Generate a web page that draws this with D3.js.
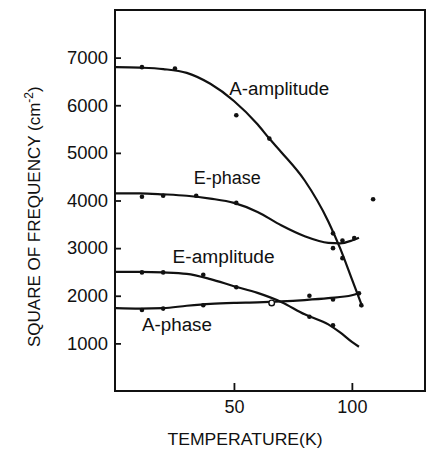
<!DOCTYPE html>
<html>
<head>
<meta charset="utf-8">
<script src="https://cdn.jsdelivr.net/npm/d3@7"></script>
<style>
  body { margin: 0; background: #fff; }
  text { font-family: "Liberation Sans", Arial, sans-serif; fill: #111; }
</style>
</head>
<body>
<div id="chart"></div>
<script>
// smooth curves, [temperature K, square of frequency cm^-2]
const aAmplitudeCurve = [[0,6800],[10,6790],[20,6760],[30,6680],[40,6450],[50,6090],[60,5600],[65,5300],[70,5020],[80,4420],[90,3560],[95,3000],[100,2350],[104.5,1760]];
const ePhaseCurve = [[0,4150],[10,4150],[20,4130],[30,4100],[40,4040],[50,3950],[60,3760],[70,3480],[80,3250],[90,3110],[95,3100],[100,3160],[103,3220]];
const eAmplitudeCurve = [[0,2500],[10,2500],[20,2490],[30,2460],[40,2350],[50,2200],[60,2060],[70,1870],[80,1610],[90,1400],[95,1230],[100,1030],[103,930]];
const aPhaseCurve = [[0,1740],[10,1730],[20,1740],[30,1790],[40,1830],[50,1850],[60,1860],[70,1880],[80,1910],[90,1950],[100,2010],[103,2060]];

// measured points
const aAmplitudePts = [[11,6800],[25,6770],[51,5790],[65,5300],[92,3310],[96,2790],[104,1800],[109,4025]];
const ePhasePts = [[11,4080],[20,4100],[34,4100],[51,3950],[92,3000],[96,3160],[101,3210]];
const eAmplitudePts = [[11,2490],[20,2490],[37,2440],[51,2180],[82,1560],[92,1380]];
const aPhasePts = [[11,1700],[20,1730],[37,1800],[82,2000],[92,1920],[103,2050]];
const aPhaseOpen = [[66,1850]];

const curveLabels = [
  {text: "A-amplitude", t: 48, f: 6220, len: 100},
  {text: "E-phase", t: 33, f: 4340, len: 67},
  {text: "E-amplitude", t: 24, f: 2680, len: 102},
  {text: "A-phase", t: 11, f: 1270, len: 70}
];

const yTicks = [1000, 2000, 3000, 4000, 5000, 6000, 7000];
const xTicks = [50, 100];

const width = 436, height = 454;
const svg = d3.select("#chart").append("svg")
  .attr("width", width)
  .attr("height", height);

const x = d3.scaleLinear().domain([0, 131]).range([116, 425]);
const y = d3.scaleLinear().domain([0, 8000]).range([391, 10]);

// frame
svg.append("rect")
  .attr("x", x(0) - 1).attr("y", y(8000))
  .attr("width", x(131) - x(0) + 1).attr("height", y(0) - y(8000))
  .attr("fill", "none").attr("stroke", "#111").attr("stroke-width", 2);

// axes with inward ticks
const yAxis = svg.append("g")
  .attr("transform", `translate(${x(0) - 1},0)`)
  .call(d3.axisLeft(y).tickValues(yTicks).tickFormat(d3.format("d")).tickSize(-6).tickPadding(7));
const xAxis = svg.append("g")
  .attr("transform", `translate(0,${y(0)})`)
  .call(d3.axisBottom(x).tickValues(xTicks).tickFormat(d3.format("d")).tickSize(-8).tickPadding(9));

[yAxis, xAxis].forEach(g => {
  g.select(".domain").remove();
  g.selectAll(".tick line").attr("stroke", "#111").attr("stroke-width", 1.8);
  g.selectAll(".tick text")
    .style("font-family", '"Liberation Sans", Arial, sans-serif')
    .style("font-size", "18px")
    .attr("fill", "#111");
});
yAxis.selectAll(".tick text").attr("textLength", 41).attr("lengthAdjust", "spacingAndGlyphs");

const line = d3.line()
  .x(d => x(d[0]))
  .y(d => y(d[1]))
  .curve(d3.curveMonotoneX);

[aAmplitudeCurve, ePhaseCurve, eAmplitudeCurve, aPhaseCurve].forEach(c => {
  svg.append("path")
    .datum(c)
    .attr("d", line)
    .attr("fill", "none")
    .attr("stroke", "#111")
    .attr("stroke-width", 2.2);
});

const pts = [].concat(aAmplitudePts, ePhasePts, eAmplitudePts, aPhasePts);
svg.append("g").selectAll("circle")
  .data(pts)
  .join("circle")
  .attr("cx", d => x(d[0]))
  .attr("cy", d => y(d[1]))
  .attr("r", 2.3)
  .attr("fill", "#111");

svg.append("g").selectAll("circle")
  .data(aPhaseOpen)
  .join("circle")
  .attr("cx", d => x(d[0]))
  .attr("cy", d => y(d[1]))
  .attr("r", 2.8)
  .attr("fill", "#fff")
  .attr("stroke", "#111")
  .attr("stroke-width", 1.4);

// curve labels
svg.append("g").selectAll("text")
  .data(curveLabels)
  .join("text")
  .attr("x", d => x(d.t))
  .attr("y", d => y(d.f))
  .attr("textLength", d => d.len)
  .attr("lengthAdjust", "spacingAndGlyphs")
  .style("font-size", "18px")
  .text(d => d.text);

// axis titles
svg.append("text")
  .attr("x", 245).attr("y", 445)
  .attr("text-anchor", "middle")
  .attr("textLength", 155)
  .attr("lengthAdjust", "spacingAndGlyphs")
  .style("font-size", "17px")
  .text("TEMPERATURE(K)");

const yTitle = svg.append("text")
  .attr("transform", "translate(40,347) rotate(-90)")
  .style("font-size", "17px");
yTitle.append("tspan").text("SQUARE OF FREQUENCY (cm");
yTitle.append("tspan").attr("dy", -7).style("font-size", "12px").text("-2");
yTitle.append("tspan").attr("dy", 7).text(")");
</script>
</body>
</html>
